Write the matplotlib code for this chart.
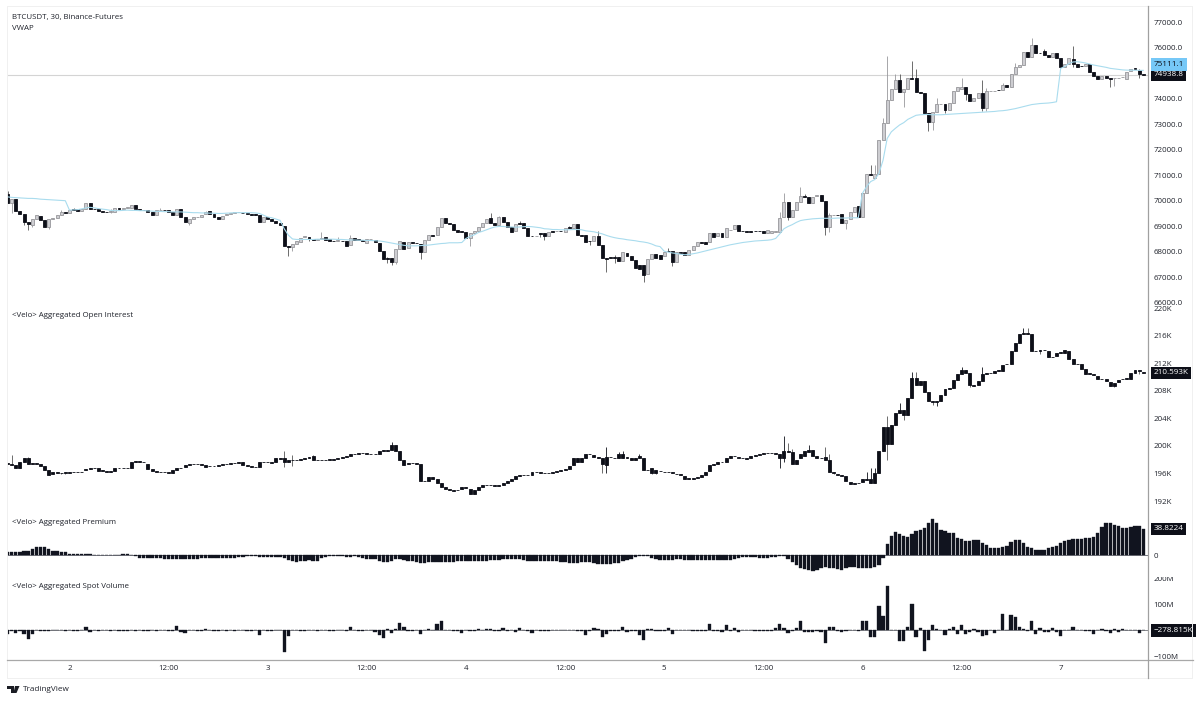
import matplotlib
matplotlib.use("Agg")
import matplotlib.pyplot as plt
import matplotlib.transforms as mtrans
from matplotlib.patches import Rectangle, Polygon
import numpy as np

plt.rcParams['font.family'] = ['Open Sans', 'DejaVu Sans']

W, H = 1200, 701
TEXT = '#1f222b'
DARK = '#0d0f18'

# 30 minute candles, BTCUSDT perp
price_open = [
    70260, 69920, 70050, 69600, 69480, 69180, 69050, 69270, 69410, 69240,
    68950, 69270, 69310, 69440, 69540, 69520, 69660, 69660, 69580, 69690,
    69900, 69690, 69660, 69610, 69570, 69570, 69570, 69710, 69660, 69730,
    69730, 69820, 69660, 69630, 69630, 69570, 69430, 69630, 69630, 69620,
    69570, 69440, 69690, 69370, 69140, 69270, 69350, 69370, 69480, 69580,
    69460, 69370, 69280, 69450, 69490, 69520, 69540, 69530, 69530, 69480,
    69490, 69440, 69180, 69360, 69280, 69190, 69110, 69010, 68220, 68170,
    68300, 68390, 68560, 68590, 68480, 68460, 68480, 68560, 68480, 68430,
    68410, 68430, 68410, 68260, 68550, 68480, 68460, 68350, 68480, 68460,
    68350, 68040, 67740, 67740, 67610, 68090, 68390, 68130, 68370, 68350,
    68300, 68000, 68460, 68650, 68650, 68950, 69310, 69140, 69090, 68850,
    68810, 68760, 68520, 68720, 68820, 68980, 69140, 69310, 69140, 69050,
    69350, 69150, 68980, 68810, 69110, 69140, 68920, 68620, 68610, 68720,
    68720, 68630, 68800, 68800, 68810, 68760, 68950, 68920, 69090, 68650,
    68650, 68430, 68430, 68630, 68260, 67740, 67780, 67780, 67780, 67650,
    67960, 67840, 67670, 67480, 67480, 67130, 67700, 67910, 67870, 67830,
    68030, 68030, 67610, 68000, 68000, 67860, 68070, 68220, 68390, 68390,
    68390, 68750, 68620, 68750, 68560, 68850, 68880, 69050, 68820, 68800,
    68800, 68810, 68820, 68800, 68720, 68720, 68790, 68790, 69370, 69960,
    69370, 69630, 69960, 70180, 70130, 69920, 70180, 70220, 70000, 68950,
    69440, 69440, 69480, 69140, 69270, 69570, 69790, 69350, 70290, 71050,
    70880, 71050, 72380, 73060, 73950, 74370, 74730, 74270, 74390, 74800,
    74800, 74270, 74210, 73450, 73080, 73490, 73790, 73790, 73560, 73840,
    74310, 74400, 74440, 74180, 73920, 74010, 74210, 73620, 74310, 74310,
    74340, 74340, 74540, 74470, 74970, 75230, 75320, 75840, 75650, 76100,
    75800, 75880, 75700, 75650, 75800, 75580, 75230, 75360, 75540, 75380,
    75280, 75280, 75380, 75060, 74890, 74770, 74900, 74800, 74820, 74820,
    74860, 74770, 75100, 75190, 75120, 74950,
]
price_close = [
    69920, 70050, 69600, 69480, 69180, 69070, 69270, 69440, 69240, 68950,
    69270, 69310, 69440, 69540, 69520, 69630, 69630, 69580, 69690, 69900,
    69660, 69660, 69610, 69570, 69560, 69610, 69710, 69690, 69730, 69740,
    69820, 69660, 69630, 69620, 69570, 69430, 69630, 69640, 69620, 69570,
    69440, 69690, 69370, 69150, 69270, 69350, 69370, 69440, 69560, 69460,
    69370, 69280, 69410, 69490, 69520, 69540, 69550, 69520, 69460, 69450,
    69440, 69180, 69360, 69270, 69190, 69110, 69030, 68220, 68200, 68300,
    68430, 68550, 68620, 68480, 68460, 68480, 68540, 68460, 68430, 68410,
    68440, 68410, 68240, 68550, 68460, 68460, 68420, 68480, 68490, 68380,
    68040, 67700, 67700, 67580, 68090, 68420, 68100, 68390, 68360, 68330,
    68000, 68460, 68650, 68620, 68950, 69310, 69140, 69090, 68850, 68790,
    68760, 68520, 68720, 68820, 68980, 69140, 69290, 69140, 69030, 69350,
    69150, 68980, 68790, 69070, 69100, 68920, 68620, 68610, 68620, 68710,
    68610, 68760, 68790, 68810, 68800, 68940, 68920, 69090, 68650, 68630,
    68390, 68420, 68630, 68260, 67740, 67730, 67770, 67770, 67650, 68000,
    67840, 67670, 67350, 67310, 67090, 67700, 67910, 67740, 67700, 68000,
    68020, 67610, 68000, 67960, 67860, 68070, 68220, 68390, 68350, 68300,
    68750, 68590, 68750, 68560, 68920, 68860, 69050, 68820, 68800, 68770,
    68790, 68800, 68810, 68720, 68850, 68820, 68800, 69310, 69960, 69370,
    69630, 69960, 70180, 70130, 69920, 70160, 70220, 70000, 68950, 69440,
    69450, 69430, 69140, 69240, 69570, 69760, 69350, 70290, 71050, 71020,
    71050, 72380, 73060, 73950, 74370, 74730, 74270, 74390, 74800, 74790,
    74270, 74210, 73450, 73080, 73490, 73790, 73800, 73560, 73840, 74310,
    74440, 74470, 74180, 73920, 74010, 74210, 73620, 74310, 74320, 74320,
    74330, 74540, 74470, 74970, 75230, 75320, 75840, 75650, 76100, 75780,
    75790, 75700, 75650, 75800, 75580, 75230, 75360, 75580, 75380, 75250,
    75270, 75380, 75060, 74890, 74770, 74890, 74800, 74790, 74830, 74830,
    74870, 75060, 75180, 75150, 74970, 74938.8,
]
# only the wicks that stick out, the rest of the candles are body only
price_high = {
    0: 70390, 13: 69630, 16: 69720, 25: 69680, 37: 69720, 48: 69600, 76: 68770,
    80: 68590, 83: 68640, 92: 67800, 117: 69500, 119: 69400, 124: 69210,
    136: 69020, 143: 68810, 160: 68130, 147: 67880, 187: 69560, 188: 70290,
    192: 70550, 193: 70250, 199: 69520, 209: 71400, 210: 71400, 211: 71150,
    212: 73260, 213: 75670, 215: 74950, 216: 74950, 219: 75490, 220: 75150,
    225: 74020, 231: 74800, 236: 74730, 237: 74430, 241: 74630, 244: 75400,
    248: 76400, 258: 76080, 251: 75950, 274: 75160,
}
price_low = {
    1: 69500, 4: 69060, 5: 68850, 6: 68960, 10: 68880, 25: 69510, 44: 69050,
    68: 67840, 69: 68030, 73: 68410, 92: 67570, 93: 67480, 94: 67500,
    100: 67700, 112: 68220, 129: 68560, 130: 68450, 141: 68250, 145: 67220,
    147: 67540, 154: 66820, 161: 67450, 189: 69230, 198: 68650, 199: 68780,
    203: 68880, 217: 73660, 223: 72740, 224: 72770, 227: 73430, 232: 73950,
    236: 73520, 237: 73520, 258: 75240, 267: 74470, 268: 74500, 274: 74820,
}
vwap = [
    70150, 70130, 70120, 70110, 70100, 70090, 70090, 70080, 70060, 70050,
    70040, 70030, 70020, 70010, 70000, 69630, 69640, 69650, 69680, 69720,
    69740, 69720, 69690, 69670, 69650, 69620, 69610, 69610, 69620, 69630,
    69620, 69620, 69610, 69610, 69600, 69590, 69580, 69580, 69570, 69570,
    69560, 69560, 69560, 69550, 69540, 69530, 69530, 69520, 69520, 69510,
    69510, 69500, 69500, 69510, 69520, 69530, 69530, 69530, 69530, 69530,
    69520, 69500, 69430, 69360, 69330, 69280, 69230, 68900, 68650, 68500,
    68480, 68480, 68480, 68480, 68480, 68490, 68490, 68490, 68490, 68490,
    68480, 68480, 68470, 68460, 68460, 68450, 68450, 68440, 68440, 68430,
    68420, 68400, 68370, 68340, 68310, 68280, 68250, 68230, 68230, 68230,
    68240, 68250, 68260, 68280, 68300, 68320, 68330, 68350, 68350, 68350,
    68360, 68520, 68600, 68660, 68750, 68800, 68860, 68920, 68970, 68990,
    68990, 68970, 68970, 68960, 68970, 68980, 68990, 68980, 68960, 68940,
    68900, 68890, 68870, 68870, 68860, 68860, 68860, 68870, 68870, 68860,
    68820, 68800, 68780, 68740, 68700, 68640, 68590, 68550, 68520, 68500,
    68470, 68450, 68430, 68400, 68380, 68350, 68300, 68230, 68200, 68020,
    67980, 67950, 67930, 67900, 67880, 67890, 67920, 67950, 67990, 68030,
    68070, 68110, 68150, 68190, 68230, 68270, 68300, 68330, 68360, 68380,
    68400, 68420, 68430, 68440, 68450, 68470, 68520, 68700, 68900, 68990,
    69060, 69150, 69220, 69250, 69270, 69290, 69300, 69310, 69310, 69310,
    69310, 69320, 69320, 69320, 69330, 69330, 69330, 70290, 70550, 70750,
    70830, 71070, 71590, 72440, 72700, 72840, 72970, 73060, 73190, 73270,
    73350, 73370, 73380, 73380, 73370, 73370, 73370, 73380, 73390, 73400,
    73410, 73420, 73430, 73440, 73450, 73460, 73470, 73480, 73490, 73500,
    73520, 73530, 73550, 73580, 73610, 73650, 73690, 73730, 73770, 73790,
    73810, 73820, 73830, 73850, 73880, 75190, 75260, 75380, 75440, 75450,
    75430, 75400, 75360, 75320, 75290, 75260, 75230, 75190, 75170, 75150,
    75130, 75120, 75120, 75115, 75112, 75111.1,
]

# aggregated open interest, thousands
oi_open = [
    197.55, 197.45, 197.21, 196.82, 197.69, 198.18, 197.55, 197.55, 197.45, 197.06,
    196.48, 196.15, 196.15, 196.10, 196.19, 196.19, 196.19, 196.19, 196.24, 196.48,
    196.68, 196.73, 196.73, 196.44, 196.34, 196.29, 196.39, 196.73, 196.77, 196.82,
    196.82, 197.69, 197.79, 197.69, 197.45, 196.68, 196.39, 196.29, 196.19, 196.15,
    196.10, 196.58, 196.73, 196.97, 197.21, 197.36, 197.45, 197.40, 197.26, 197.06,
    197.16, 197.16, 197.21, 197.31, 197.36, 197.50, 197.55, 197.60, 197.21, 197.06,
    196.97, 196.97, 197.74, 197.69, 197.60, 197.60, 198.18, 198.18, 198.03, 198.03,
    198.03, 198.03, 198.08, 198.18, 198.52, 198.03, 198.03, 197.98, 198.03, 198.08,
    198.08, 198.18, 198.42, 198.61, 198.76, 198.90, 199.00, 198.95, 198.90, 198.81,
    198.81, 199.29, 199.29, 199.39, 200.16, 199.29, 197.94, 197.55, 197.55, 197.55,
    197.45, 194.94, 194.94, 195.42, 195.13, 194.55, 194.06, 193.68, 193.58, 193.58,
    193.77, 193.97, 193.77, 193.00, 193.58, 193.97, 194.31, 194.35, 194.26, 194.21,
    194.31, 194.69, 194.94, 195.13, 195.61, 195.81, 195.76, 195.76, 196.24, 196.15,
    196.10, 196.10, 196.10, 196.24, 196.39, 196.48, 196.68, 197.21, 197.69, 197.69,
    198.32, 198.81, 198.66, 198.42, 198.18, 197.21, 198.42, 198.32, 198.23, 198.23,
    198.42, 198.23, 198.03, 198.32, 198.32, 196.58, 196.73, 196.48, 196.39, 196.29,
    196.24, 196.15, 196.00, 195.90, 195.61, 195.37, 195.27, 195.37, 195.52, 195.76,
    196.39, 197.21, 197.45, 197.60, 197.74, 198.18, 198.57, 198.42, 198.32, 198.18,
    198.18, 198.47, 198.66, 198.81, 198.95, 199.00, 199.00, 198.23, 198.32, 199.29,
    199.15, 197.45, 198.27, 198.52, 199.10, 199.39, 198.52, 198.27, 198.42, 197.89,
    196.19, 195.90, 195.76, 195.61, 194.74, 194.55, 194.64, 194.74, 195.03, 194.64,
    194.64, 196.10, 199.24, 202.73, 200.21, 203.07, 204.81, 205.20, 204.42, 206.94,
    209.84, 209.41, 209.46, 207.81, 206.45, 206.36, 206.45, 207.42, 208.20, 208.34,
    209.55, 210.47, 210.96, 210.62, 208.78, 208.78, 209.41, 210.37, 210.52, 210.62,
    210.91, 210.86, 211.83, 211.83, 213.76, 214.88, 216.23, 216.42, 216.18, 213.76,
    213.86, 213.91, 213.81, 212.94, 213.04, 213.52, 213.91, 213.76, 212.65, 211.92,
    211.92, 211.10, 210.52, 210.37, 210.13, 209.75, 209.65, 209.26, 209.16, 209.26,
    209.75, 209.75, 209.75, 210.52, 210.96, 210.71,
]
oi_close = [
    197.45, 197.21, 196.73, 197.69, 198.18, 197.45, 197.45, 197.45, 197.06, 196.48,
    195.81, 195.90, 196.05, 196.00, 196.00, 196.10, 196.15, 196.24, 196.29, 196.68,
    196.73, 196.77, 196.39, 196.34, 196.29, 196.39, 196.73, 196.77, 196.82, 196.87,
    197.69, 197.79, 197.74, 197.60, 196.68, 196.39, 196.29, 196.19, 196.15, 196.10,
    196.58, 196.73, 196.82, 197.21, 197.36, 197.45, 197.40, 197.26, 196.97, 197.16,
    197.15, 197.21, 197.31, 197.36, 197.50, 197.55, 197.60, 197.21, 197.06, 196.97,
    196.92, 197.74, 197.69, 197.60, 197.55, 198.18, 198.13, 197.69, 197.69, 197.98,
    197.98, 198.08, 198.18, 198.42, 198.03, 197.98, 197.94, 198.03, 198.08, 198.03,
    198.18, 198.42, 198.61, 198.76, 198.90, 199.00, 198.95, 198.90, 198.81, 198.90,
    199.29, 199.39, 199.39, 200.16, 199.29, 197.94, 197.21, 197.36, 197.50, 197.45,
    194.94, 194.89, 195.42, 195.18, 194.55, 194.06, 193.68, 193.58, 193.53, 193.57,
    193.97, 193.92, 193.00, 193.58, 193.97, 194.31, 194.35, 194.26, 194.21, 194.31,
    194.69, 194.94, 195.13, 195.61, 195.81, 195.76, 195.71, 196.24, 196.15, 196.10,
    196.09, 196.12, 196.24, 196.39, 196.48, 196.68, 197.06, 198.32, 198.32, 198.32,
    198.81, 198.76, 198.42, 198.32, 197.36, 198.42, 198.37, 198.27, 198.81, 198.81,
    198.23, 198.03, 198.32, 198.52, 196.58, 196.53, 196.00, 196.00, 196.34, 196.28,
    196.23, 196.10, 195.90, 195.80, 195.18, 195.18, 195.37, 195.52, 195.71, 196.29,
    197.21, 197.36, 197.60, 197.74, 198.18, 198.57, 198.61, 198.32, 198.18, 198.17,
    198.47, 198.66, 198.81, 198.95, 199.00, 198.99, 198.90, 198.81, 199.29, 199.15,
    197.45, 198.03, 198.76, 199.24, 199.39, 198.52, 198.27, 198.23, 197.89, 196.19,
    196.00, 195.76, 195.66, 194.89, 194.45, 194.50, 194.60, 195.13, 195.23, 195.13,
    196.10, 199.24, 202.73, 200.21, 203.07, 204.81, 205.20, 204.42, 206.94, 209.84,
    208.83, 208.83, 207.81, 206.50, 206.36, 206.45, 207.42, 208.20, 208.34, 209.55,
    210.47, 210.96, 210.62, 208.78, 208.68, 209.41, 210.37, 210.52, 210.62, 210.91,
    211.00, 211.68, 211.92, 213.76, 214.88, 216.23, 216.42, 216.28, 213.76, 213.71,
    213.81, 213.86, 212.94, 212.89, 213.52, 213.62, 213.52, 212.65, 211.92, 211.83,
    211.10, 210.37, 210.37, 210.23, 209.65, 209.65, 209.36, 208.73, 208.73, 209.55,
    209.70, 209.80, 210.52, 210.96, 210.81, 210.593,
]
oi_high = {
    1: 198.66, 5: 198.40, 67: 199.29, 69: 198.66, 74: 198.70, 83: 198.90,
    93: 200.50, 145: 199.78, 148: 199.10, 149: 199.20, 153: 198.80,
    188: 201.42, 189: 200.36, 190: 199.50, 194: 200.11, 198: 199.87, 199: 198.86,
    208: 196.19, 209: 196.82, 210: 196.82, 212: 199.97, 213: 204.32, 216: 206.26,
    219: 210.76, 220: 210.76, 231: 211.49, 236: 211.44, 246: 217.15, 247: 217.05,
}
oi_low = {
    67: 196.97, 69: 197.06, 144: 196.10, 145: 196.10, 187: 196.87, 188: 197.69,
    213: 198.03, 217: 203.74, 224: 205.87, 225: 205.78, 233: 208.50, 250: 213.30,
    268: 208.50, 274: 210.50,
}

# aggregated premium
premium = [
    4.4, 4.4, 4.4, 4.4, 5.9, 6.4, 9.8, 11.8, 12.3, 11.8,
    9.3, 6.9, 5.9, 5.4, 4.9, 2.5, 2.0, 2.0, 1.8, 1.5,
    1.3, 1.1, 0.6, 0.3, 0.2, 0.1, 0.5, 1.0, 1.2, 2.0,
    1.0, -0.8, -3.5, -4.0, -4.3, -4.5, -4.5, -4.5, -5.0, -5.2,
    -5.5, -5.5, -5.5, -5.5, -5.2, -5.0, -4.8, -4.5, -3.5, -3.5,
    -4.0, -4.5, -4.5, -4.0, -4.0, -3.5, -3.0, -2.0, -1.5, -1.5,
    -1.2, -2.0, -2.5, -2.5, -3.0, -2.5, -2.5, -4.0, -6.5, -8.0,
    -9.5, -8.5, -8.0, -7.5, -8.0, -8.0, -4.5, -2.5, -1.0, -0.8,
    -1.0, -1.5, -2.0, -2.0, -1.5, -3.0, -4.4, -5.0, -5.5, -6.0,
    -9.0, -10.0, -10.0, -8.0, -6.0, -6.0, -7.5, -8.0, -9.0, -10.0,
    -12.0, -11.0, -9.5, -9.5, -9.5, -10.0, -10.5, -10.5, -9.5, -9.0,
    -8.0, -8.0, -8.0, -8.0, -8.0, -8.0, -8.0, -7.5, -7.5, -7.0,
    -6.0, -5.0, -5.0, -5.5, -6.0, -7.0, -8.0, -8.0, -9.0, -9.0,
    -8.0, -8.5, -9.0, -9.0, -10.0, -10.5, -11.0, -12.0, -12.0, -10.5,
    -10.0, -10.0, -12.0, -13.0, -13.5, -13.0, -12.5, -12.0, -11.0, -9.0,
    -7.0, -5.0, -3.0, -1.0, -0.5, -1.0, -4.0, -6.0, -6.5, -7.0,
    -7.0, -6.5, -6.0, -5.5, -7.0, -7.5, -7.0, -6.5, -6.5, -6.5,
    -6.5, -7.0, -7.0, -7.5, -7.5, -7.0, -6.0, -4.5, -3.0, -2.0,
    -2.5, -3.0, -4.0, -4.5, -4.5, -3.0, -2.0, -1.0, -1.5, -5.0,
    -10.0, -14.0, -19.0, -20.5, -21.5, -23.0, -21.5, -19.0, -17.0, -18.0,
    -19.0, -20.5, -21.0, -19.0, -17.5, -17.5, -18.0, -19.0, -19.0, -18.0,
    -17.5, -14.0, -4.5, 16.0, 28.5, 34.9, 31.0, 29.0, 27.5, 31.4,
    35.8, 36.8, 40.8, 47.0, 53.0, 47.0, 37.8, 35.4, 33.0, 32.4,
    26.0, 24.0, 21.0, 21.6, 23.0, 23.0, 18.0, 15.0, 10.3, 10.8,
    10.8, 12.8, 13.3, 20.0, 22.6, 22.6, 17.7, 12.8, 10.3, 8.3,
    8.3, 8.3, 10.3, 12.3, 13.7, 17.7, 20.6, 23.0, 23.6, 23.6,
    23.6, 25.5, 25.5, 27.0, 32.4, 41.7, 47.0, 47.0, 44.7, 43.2,
    39.8, 39.8, 41.7, 42.7, 42.7, 38.8224,
]

# aggregated spot volume delta, millions
spot_volume = [
    -15, -3, -10, -3, -12, -33, -15, 0, -1, -3,
    -2, 0, 2, 2, -3, 1, -1, -4, 0, 14,
    -7, 0, -0.5, 0.5, 0.5, -1, 0.5, -1, -0.5, -0.5,
    3, -1, 0, -2, -2, 0.5, -1, 1, 0, -1,
    -0.5, 18, -8, -11, 0, 2, -3, -3, 4, 3,
    -1, -1, 0.5, -1, 1.5, -1, 0.5, 0, -1, -1,
    0.5, -17, 3, -4, -2, 0, 0, -82, -20, 0,
    0.5, -2, -3, 0, 1, -0.5, 1, 0, -3, -0.5,
    0.5, 0, -1, 12, 3, -0.5, -1, 0, 3, -6,
    -18, -30, 4, -10, 4, 28, 12, -2, -3, 0,
    -12, 0, 4, 3, 24, 38, 2, 0, -1, -1,
    -9, 0, -3, -2, 4, 2, 6, 6, -1, -2,
    10, -1, 0, -7, 11, 0, -1, -9, 2, -0.5,
    -1, -3, 2, 1.5, 0, 2, 3, 3, -1, -3,
    -16, -2, 11, 4, -27, -12, -2, -3, -2, 12,
    -7, -2, -1, -18, -38, 4, 4, -2, -1, -1,
    11, -12, 0, 0, 3, 3, -1, -1, -2, -2,
    26, -2, -2, -5, 22, -1, 8, -8, 0, 0,
    0, -1, -2, -2, -2, -1, 10, 25, 10, -10,
    -2, 8, 38, -5, -8, -8, -3, -8, -47, 13,
    13, -4, -6, -4, 3, 2, -1, 37, 37, -27,
    -27, 92, 55, 170, 0, 0, -42, -42, 15, 103,
    -25, 10, -80, -37, 20, 4, 0, -18, 5, 13,
    -12, 20, -14, -8, 5, -5, -20, -18, 0, -10,
    0, 62, 0, 60, 53, 15, 5, -2, 38, -12,
    10, -8, -6, 8, -6, -20, 0, 2, 15, 3,
    0, -2, -4, -12, 1, 7, -4, -10, 4, -6,
    5, 2, 1, 2, -10, -0.278815,
]

price_ticks = list(range(66000, 78000, 1000))
oi_ticks = list(range(192, 224, 4))
premium_ticks = [0]
volume_ticks = [-100, 100, 200]

time_ticks = [15, 39, 63, 87, 111, 135, 159, 183, 207, 231, 255]
time_labels = ['2', '12:00', '3', '12:00', '4', '12:00', '5', '12:00', '6', '12:00', '7']

# pixel layout of the screenshot
BAR_PX = 4.13
X0_PX = 7.5
LEFT, RIGHT = 7, 1148

fig = plt.figure(figsize=(W / 100, H / 100), dpi=100, facecolor='white')


def pane(top, bottom, anchor_val, anchor_y, px_per_unit):
    ax = fig.add_axes([LEFT / W, 1 - bottom / H, (RIGHT - LEFT) / W, (bottom - top) / H])
    ax.set_xlim((LEFT - X0_PX) / BAR_PX, (RIGHT - X0_PX) / BAR_PX)
    ax.set_ylim(anchor_val - (bottom - anchor_y) / px_per_unit,
                anchor_val + (anchor_y - top) / px_per_unit)
    ax.set_facecolor('none')
    for s in ax.spines.values():
        s.set_visible(False)
    ax.yaxis.tick_right()
    ax.tick_params(axis='y', length=0, pad=4, labelsize=5.7, labelcolor=TEXT)
    ax.tick_params(axis='x', length=0, labelbottom=False)
    ax.set_xticks([])
    return ax


def candles(ax, o, c, highs, lows, up_face, up_edge, lw=0.6):
    o, c = np.asarray(o, float), np.asarray(c, float)
    x = np.arange(len(o))
    up = c >= o
    hi = np.maximum(o, c)
    lo = np.minimum(o, c)
    for k, v in highs.items():
        hi[k] = v
    for k, v in lows.items():
        lo[k] = v
    ax.vlines(x, lo, hi, color=np.where(up, up_edge, '#555555'), lw=0.6, zorder=2)
    ax.bar(x[up], (c - o)[up], bottom=o[up], width=0.72, color=up_face, edgecolor=up_edge, lw=lw, zorder=3)
    ax.bar(x[~up], (c - o)[~up], bottom=o[~up], width=0.72, color=DARK, edgecolor=DARK, lw=lw, zorder=3)


def tag(ax, value, text, face, color, zorder=10):
    trans = mtrans.blended_transform_factory(ax.transAxes, ax.transData)
    ax.annotate(text, xy=(1, value), xycoords=trans, xytext=(4, 0), textcoords='offset points',
                va='center', ha='left', fontsize=5.9, color=color, clip_on=False, zorder=zorder,
                bbox=dict(boxstyle='square,pad=0.34', fc=face, ec='none'))


ax_price = pane(6, 305, 76000, 47.7, 25.5 / 1000)
ax_oi = pane(305, 512, 216, 335.7, 6.89)
ax_prem = pane(512, 576, 0, 555.3, 0.679)
ax_vol = pane(576, 659.5, 0, 630.4, 0.26)

# main pane
ax_price.axhline(price_close[-1], color='#d4d4d4', lw=0.8, zorder=1)
candles(ax_price, price_open, price_close, price_high, price_low, '#cdcdd1', '#97979b')
ax_price.plot(np.arange(len(vwap)), vwap, color='#a9dcee', lw=0.8, zorder=4)
ax_price.set_yticks(price_ticks, [f'{t:.1f}' for t in price_ticks])
tag(ax_price, price_close[-1], '74938.8', DARK, 'white', zorder=10)
tag(ax_price, vwap[-1] + 235, '75111.1', '#76c8f7', DARK, zorder=11)

# open interest, up and down are both black here
candles(ax_oi, oi_open, oi_close, oi_high, oi_low, DARK, DARK)
ax_oi.set_yticks(oi_ticks, [f'{t}K' for t in oi_ticks])
tag(ax_oi, oi_close[-1], '210.593K', DARK, 'white')

# premium histogram, thin edge keeps the near zero bars visible as a dash
ax_prem.bar(np.arange(len(premium)), premium, width=0.8, color='#11141f', edgecolor='#11141f', lw=0.25, zorder=3)
ax_prem.axhline(0, color='#3a3d48', lw=0.5, zorder=2)
ax_prem.set_yticks(premium_ticks, ['0'])
tag(ax_prem, premium[-1], '38.8224', DARK, 'white')

# spot volume histogram
ax_vol.bar(np.arange(len(spot_volume)), spot_volume, width=0.78, color='#11141f', edgecolor='#11141f', lw=0.25, zorder=3)
ax_vol.axhline(0, color='#55585f', lw=0.5, zorder=2)
ax_vol.set_yticks(volume_ticks, ['\u2212100M', '100M', '200M'])
tag(ax_vol, spot_volume[-1], '\u2212278.815K', DARK, 'white')


def ftext(x, y, s, **kw):
    kw.setdefault('fontsize', 5.7)
    kw.setdefault('color', TEXT)
    kw.setdefault('va', 'center')
    fig.text(x / W, 1 - y / H, s, **kw)


ftext(12, 17, 'BTCUSDT, 30, Binance-Futures')
ftext(12, 28, 'VWAP')
ftext(12, 316, '<Velo> Aggregated Open Interest')
ftext(12, 523, '<Velo> Aggregated Premium')
ftext(12, 587, '<Velo> Aggregated Spot Volume')

# time axis labels under the last pane
for i, lab in zip(time_ticks, time_labels):
    ftext(X0_PX + BAR_PX * i, 668.5, lab, ha='center')


def hline(y, x0, x1, color, lw):
    fig.add_artist(plt.Line2D([x0 / W, x1 / W], [1 - y / H, 1 - y / H], color=color, lw=lw))


def vline(x, y0, y1, color, lw):
    fig.add_artist(plt.Line2D([x / W, x / W], [1 - y0 / H, 1 - y1 / H], color=color, lw=lw))


# chart frame
hline(6, 7, 1192, '#f0f0f0', 0.7)
hline(678, 7, 1192, '#f0f0f0', 0.7)
vline(7, 6, 678, '#f0f0f0', 0.7)
vline(1192, 6, 678, '#f0f0f0', 0.7)
hline(659.5, 7, 1193, '#a8a8a8', 0.9)
vline(1148, 6, 678, '#a0a0a0', 0.9)

# the 200M tick sits partly under the pane edge
fig.add_artist(Rectangle((1150 / W, 1 - 576.5 / H), 40 / W, 5 / H, transform=fig.transFigure,
                         fc='white', ec='none', zorder=20))

# logo
logo_parts = [
    [(7, 686), (14, 686), (14, 693), (11, 693), (11, 689), (7, 689)],
    [(15, 686), (19.5, 686), (16.5, 693), (13.5, 693)],
]
for part in logo_parts:
    fig.add_artist(Polygon([(px / W, 1 - py / H) for px, py in part], closed=True,
                           transform=fig.transFigure, fc='#1b1d24', ec='none'))
ftext(23, 689.5, 'TradingView', fontsize=5.9)

fig.savefig('out.png', dpi=100, facecolor='white')
